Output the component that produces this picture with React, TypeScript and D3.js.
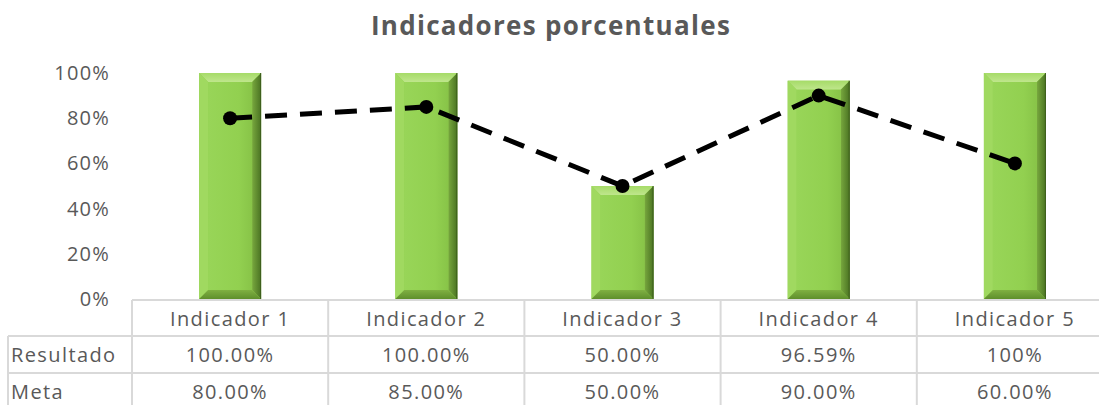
import * as d3 from "d3";

const categories = ["Indicador 1", "Indicador 2", "Indicador 3", "Indicador 4", "Indicador 5"];
const resultado = [1.0, 1.0, 0.5, 0.9659, 1.0];
const meta = [0.8, 0.85, 0.5, 0.9, 0.6];
const resultadoLabels = ["100.00%", "100.00%", "50.00%", "96.59%", "100%"];
const metaLabels = ["80.00%", "85.00%", "50.00%", "90.00%", "60.00%"];
const yTicks = [0, 0.2, 0.4, 0.6, 0.8, 1.0];

const width = 1099;
const height = 405;
const plot = { left: 132, right: 1113, top: 73, bottom: 299 };
const rowLines = [300, 336, 373];
const gray = "#595959";
const grid = "#d9d9d9";
const font = "'Open Sans', Lato, sans-serif";

function Bar({ x, y, w, h }: { x: number; y: number; w: number; h: number }) {
  const b = Math.min(9, h / 4);
  const x2 = x + w;
  const y2 = y + h;
  return (
    <g>
      <rect x={x} y={y} width={w} height={h} fill="#92d050" />
      <polygon points={`${x},${y} ${x2},${y} ${x2 - b},${y + b} ${x + b},${y + b}`} fill="url(#topBevel)" />
      <polygon points={`${x},${y} ${x + b},${y + b} ${x + b},${y2 - b} ${x},${y2}`} fill="#a0d960" />
      <polygon points={`${x2},${y} ${x2},${y2} ${x2 - b},${y2 - b} ${x2 - b},${y + b}`} fill="url(#rightBevel)" />
      <polygon points={`${x},${y2} ${x2},${y2} ${x2 - b},${y2 - b} ${x + b},${y2 - b}`} fill="url(#bottomBevel)" />
      <rect x={x + b} y={y + b} width={w - 2 * b} height={h - 2 * b} fill="url(#face)" />
      <line x1={x2 - 0.5} x2={x2 - 0.5} y1={y} y2={y2} stroke="#3d5e1c" strokeWidth={1} />
    </g>
  );
}

export default function App() {
  const x = d3.scaleBand<string>().domain(categories).range([plot.left, plot.right]);
  const y = d3.scaleLinear().domain([0, 1]).range([plot.bottom, plot.top]);
  const barW = 62;
  const cx = (c: string) => (x(c) ?? 0) + x.bandwidth() / 2;

  const line = d3
    .line<number>()
    .x((_, i) => cx(categories[i]))
    .y((d) => y(d));

  const cell = { fontFamily: font, fontSize: 20, fill: gray, letterSpacing: 1.4 };

  return (
    <svg width={width} height={height} style={{ position: "absolute", left: 0, top: 0 }}>
      <defs>
        <linearGradient id="topBevel" x1="0" x2="0" y1="0" y2="1">
          <stop offset="0" stopColor="#a6db68" />
          <stop offset="1" stopColor="#bfe68c" />
        </linearGradient>
        <linearGradient id="rightBevel" x1="0" x2="1" y1="0" y2="0">
          <stop offset="0" stopColor="#78a83e" />
          <stop offset="1" stopColor="#4a7322" />
        </linearGradient>
        <linearGradient id="bottomBevel" x1="0" x2="0" y1="0" y2="1">
          <stop offset="0" stopColor="#7fb042" />
          <stop offset="1" stopColor="#5f8f2c" />
        </linearGradient>
        <linearGradient id="face" x1="0" x2="1" y1="0" y2="0">
          <stop offset="0" stopColor="#98d558" />
          <stop offset="0.7" stopColor="#92d050" />
          <stop offset="1" stopColor="#88c448" />
        </linearGradient>
      </defs>
      <rect width={width} height={height} fill="#fff" />
      <text x={551} y={35} textAnchor="middle" fontFamily={font} fontWeight={700} fontSize={26} letterSpacing={1.3} fill={gray}>
        Indicadores porcentuales
      </text>

      {yTicks.map((t) => (
        <text key={t} x={110} y={y(t) + 7} textAnchor="end" fontFamily={font} fontSize={20} letterSpacing={1.2} fill={gray}>
          {d3.format(".0%")(t)}
        </text>
      ))}

      {categories.map((c, i) => (
        <Bar key={c} x={cx(c) - barW / 2} y={y(resultado[i])} w={barW} h={y(0) - y(resultado[i])} />
      ))}

      {/* table */}
      <g stroke={grid} strokeWidth={2}>
        <line x1={plot.left} x2={width} y1={rowLines[0]} y2={rowLines[0]} />
        <line x1={8} x2={width} y1={rowLines[1]} y2={rowLines[1]} />
        <line x1={8} x2={width} y1={rowLines[2]} y2={rowLines[2]} />
        <line x1={8} x2={8} y1={rowLines[1]} y2={height} />
        {categories.map((c) => (
          <line key={c} x1={x(c)} x2={x(c)} y1={rowLines[0]} y2={height} />
        ))}
      </g>
      {categories.map((c, i) => (
        <g key={c} {...cell} textAnchor="middle">
          <text x={cx(c)} y={326}>{c}</text>
          <text x={cx(c)} y={362}>{resultadoLabels[i]}</text>
          <text x={cx(c)} y={399}>{metaLabels[i]}</text>
        </g>
      ))}
      <text x={11} y={362} {...cell}>Resultado</text>
      <text x={11} y={399} {...cell}>Meta</text>

      <path d={line(meta) ?? ""} fill="none" stroke="#000" strokeWidth={5} strokeDasharray="22 13" />
      {meta.map((m, i) => (
        <circle key={i} cx={cx(categories[i])} cy={y(m)} r={7} fill="#000" />
      ))}
    </svg>
  );
}
